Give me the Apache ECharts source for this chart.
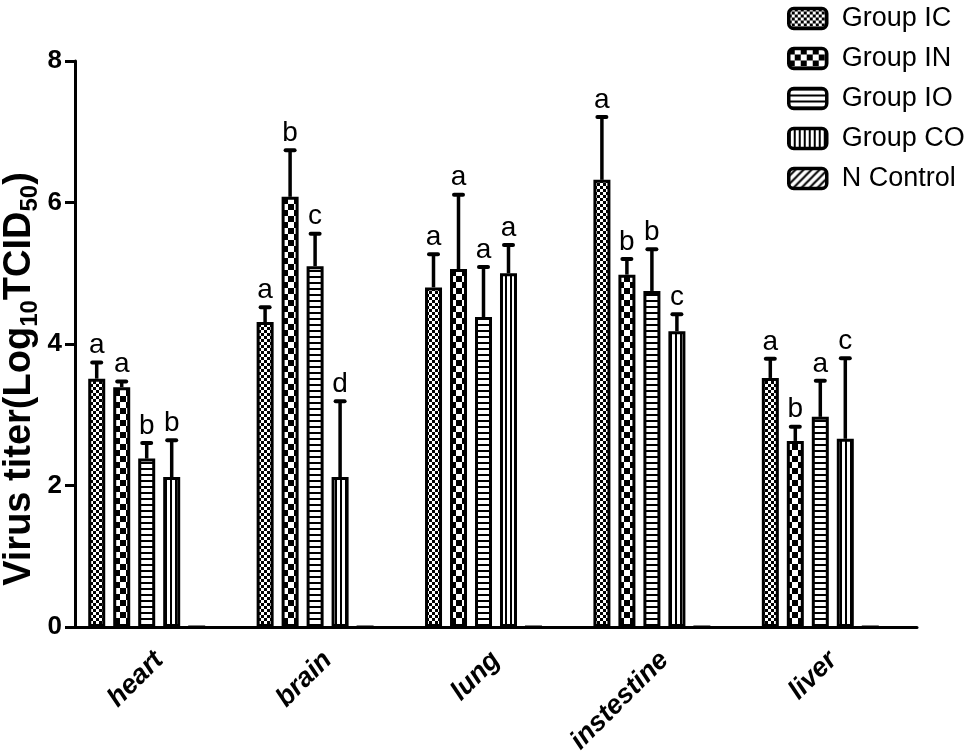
<!DOCTYPE html>
<html>
<head>
<meta charset="utf-8">
<script src="https://cdn.jsdelivr.net/npm/echarts@6/dist/echarts.min.js"></script>
<style>
html,body{margin:0;padding:0;background:#fff;}
#c{width:976px;height:752px;}
</style>
</head>
<body>
<div id="c"></div>
<script>
// ---- data ----
const categories = ['heart', 'brain', 'lung', 'instestine', 'liver'];
const groupNames = ['Group IC', 'Group IN', 'Group IO', 'Group CO', 'N Control'];
const meanIC = [3.51, 4.31, 4.80, 6.32, 3.52];
const meanIN = [3.39, 6.08, 5.06, 4.98, 2.63];
const meanIO = [2.38, 5.10, 4.38, 4.75, 2.97];
const meanCO = [2.12, 2.12, 5.00, 4.18, 2.66];
const meanNC = [0, 0, 0, 0, 0];
const errIC = [0.23, 0.21, 0.47, 0.89, 0.27];
const errIN = [0.08, 0.66, 1.05, 0.22, 0.20];
const errIO = [0.22, 0.46, 0.71, 0.59, 0.51];
const errCO = [0.52, 1.07, 0.40, 0.24, 1.14];
const letIC = ['a', 'a', 'a', 'a', 'a'];
const letIN = ['a', 'b', 'a', 'b', 'b'];
const letIO = ['b', 'c', 'a', 'b', 'a'];
const letCO = ['b', 'd', 'a', 'c', 'c'];
const yTicks = [0, 2, 4, 6, 8];

const means = [meanIC, meanIN, meanIO, meanCO, meanNC];
const errs = [errIC, errIN, errIO, errCO];
const letters = [letIC, letIN, letIO, letCO];

// ---- patterns ----
function pat(w, h, draw) {
  const cv = document.createElement('canvas');
  cv.width = w; cv.height = h;
  const g = cv.getContext('2d');
  g.fillStyle = '#fff'; g.fillRect(0, 0, w, h);
  g.fillStyle = '#000'; g.strokeStyle = '#000';
  draw(g);
  return { image: cv, repeat: 'repeat' };
}
const patterns = [
  pat(6, 6, g => { g.fillRect(0, 0, 3, 3); g.fillRect(3, 3, 3, 3); }),
  pat(12, 12, g => { g.fillRect(0, 0, 6, 6); g.fillRect(6, 6, 6, 6); }),
  pat(6, 6, g => { g.fillRect(0, 0, 6, 2); }),
  pat(5, 5, g => { g.fillRect(0, 0, 2, 5); }),
  pat(8, 8, g => { g.lineWidth = 2; g.beginPath(); g.moveTo(0, 8); g.lineTo(8, 0); g.moveTo(-4, 4); g.lineTo(4, -4); g.moveTo(4, 12); g.lineTo(12, 4); g.stroke(); })
];

const FONT = 'Liberation Sans, Arial, Helvetica, sans-serif';
const BAR_W = 17;
const PITCH = 25;

const series = [];
for (let k = 0; k < 5; k++) {
  series.push({
    type: 'bar',
    name: groupNames[k],
    data: means[k],
    barWidth: BAR_W,
    barGap: '47%',
    itemStyle: { color: patterns[k], borderColor: '#000', borderWidth: 3 },
    emphasis: { disabled: true },
    z: 2
  });
}
// empty sixth slot, as in the reference layout
series.push({ type: 'bar', name: 'pad', data: [], barWidth: BAR_W, barGap: '47%' });

for (let k = 0; k < 4; k++) {
  series.push({
    type: 'custom',
    name: groupNames[k] + ' error',
    z: 5,
    silent: true,
    data: categories.map((c, i) => [i, means[k][i], means[k][i] + errs[k][i]]),
    renderItem: function (params, api) {
      const i = api.value(0);
      const top = api.coord([i, api.value(1)]);
      const up = api.coord([i, api.value(2)]);
      const x = top[0] + (k - 2.5) * PITCH;
      return {
        type: 'group',
        children: [
          { type: 'line', shape: { x1: x, y1: top[1], x2: x, y2: up[1] }, style: { stroke: '#000', lineWidth: 3.5 } },
          { type: 'line', shape: { x1: x - 4.5, y1: up[1], x2: x + 4.5, y2: up[1] }, style: { stroke: '#000', lineWidth: 4, lineCap: 'round' } },
          { type: 'text', x: x, y: up[1] - 3, style: { text: letters[k][i], fill: '#000', font: '28px ' + FONT, textAlign: 'center', textVerticalAlign: 'bottom' } }
        ]
      };
    }
  });
}

const chart = echarts.init(document.getElementById('c'));
chart.setOption({
  animation: false,
  backgroundColor: '#fff',
  textStyle: { fontFamily: FONT },
  grid: { left: 75, right: 59, top: 61, bottom: 125, containLabel: false, outerBoundsMode: 'none' },
  legend: {
    data: groupNames,
    orient: 'vertical',
    left: 782,
    top: 0,
    icon: 'roundRect',
    itemWidth: 38,
    itemHeight: 20,
    itemGap: 13,
    itemStyle: { borderColor: '#000', borderWidth: 3.5 },
    textStyle: { fontSize: 27, color: '#000', fontFamily: FONT, padding: [0, 0, 0, 10] },
    selectedMode: false
  },
  xAxis: {
    type: 'category',
    data: categories,
    axisLine: { lineStyle: { color: '#000', width: 3 } },
    axisTick: { alignWithLabel: true, length: 10, lineStyle: { color: '#000', width: 3 } },
    axisLabel: { rotate: 45, margin: 29, color: '#000', fontSize: 27, fontWeight: 'bold', fontStyle: 'italic', fontFamily: FONT }
  },
  yAxis: {
    type: 'value',
    min: yTicks[0],
    max: yTicks[yTicks.length - 1],
    interval: 2,
    splitLine: { show: false },
    axisLine: { show: true, lineStyle: { color: '#000', width: 3 } },
    axisTick: { show: true, length: 10, lineStyle: { color: '#000', width: 3 } },
    axisLabel: { color: '#000', fontSize: 26, fontWeight: 'bold', margin: 13, fontFamily: FONT },
    name: '{m|Virus titer(Log}{s|10}{m|TCID}{s|50}{m|)}',
    nameLocation: 'middle',
    nameRotate: 90,
    nameGap: 33,
    nameMoveOverlap: false,
    nameTextStyle: {
      padding: [0, 70, 0, 0],
      rich: {
        m: { fontSize: 38, fontWeight: 'bold', color: '#000', fontFamily: FONT, lineHeight: 44 },
        s: { fontSize: 24, fontWeight: 'bold', color: '#000', fontFamily: FONT, lineHeight: 18, verticalAlign: 'bottom' }
      }
    }
  },
  series: series
});
</script>
</body>
</html>
